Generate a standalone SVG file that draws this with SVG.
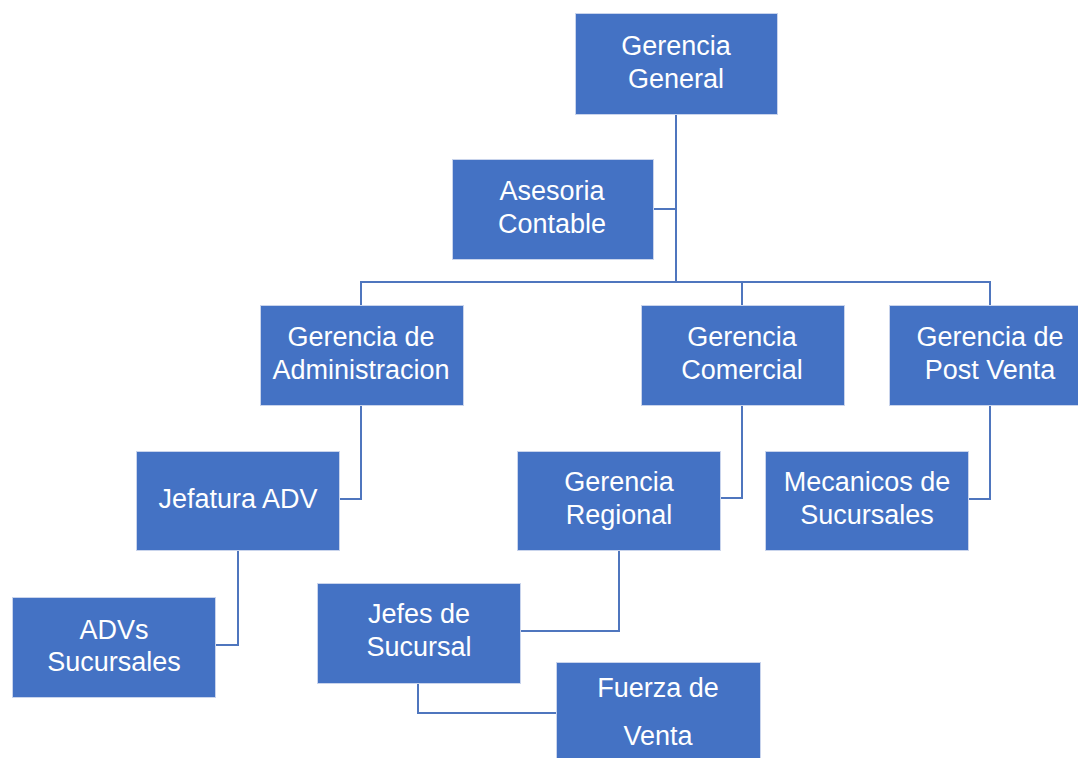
<svg xmlns="http://www.w3.org/2000/svg" width="1078" height="758" viewBox="0 0 1078 758">
  <style>
    .box { fill: #4472C4; stroke: #C9D4EC; stroke-width: 1; }
    .lbl { fill: #FFFFFF; font-family: "Liberation Sans", Arial, sans-serif; font-size: 27px; text-anchor: middle; }
    .link { fill: none; stroke: #4F76BE; stroke-width: 2; }
  </style>
  <rect width="1078" height="758" fill="#FFFFFF"/>

  <!-- connectors -->
  <g id="connectors">
    <path class="link" d="M676 114 V282"/>
    <path class="link" d="M653 209 H676"/>
    <path class="link" d="M361 305 V282 H990 V305"/>
    <path class="link" d="M742 282 V305"/>
    <path class="link" d="M361 405 V499 H339"/>
    <path class="link" d="M238 550 V645 H215"/>
    <path class="link" d="M742 405 V498 H720"/>
    <path class="link" d="M990 405 V499 H969"/>
    <path class="link" d="M619 550 V631 H520"/>
    <path class="link" d="M418 683 V713 H556"/>
  </g>

  <g id="gerencia-general">
    <rect class="box" x="575.5" y="13.5" width="202" height="101"/>
    <text class="lbl" x="676" y="55">Gerencia</text>
    <text class="lbl" x="676" y="88">General</text>
  </g>

  <g id="asesoria-contable">
    <rect class="box" x="452.5" y="159.5" width="201" height="100"/>
    <text class="lbl" x="552" y="200">Asesoria</text>
    <text class="lbl" x="552" y="233">Contable</text>
  </g>

  <g id="gerencia-administracion">
    <rect class="box" x="260.5" y="305.5" width="203" height="100"/>
    <text class="lbl" x="361" y="346">Gerencia de</text>
    <text class="lbl" x="361" y="379">Administracion</text>
  </g>

  <g id="gerencia-comercial">
    <rect class="box" x="641.5" y="305.5" width="203" height="100"/>
    <text class="lbl" x="742" y="346">Gerencia</text>
    <text class="lbl" x="742" y="379">Comercial</text>
  </g>

  <g id="gerencia-post-venta">
    <rect class="box" x="889.5" y="305.5" width="203" height="100"/>
    <text class="lbl" x="990" y="346">Gerencia de</text>
    <text class="lbl" x="990" y="379">Post Venta</text>
  </g>

  <g id="jefatura-adv">
    <rect class="box" x="136.5" y="451.5" width="203" height="99"/>
    <text class="lbl" x="238" y="508">Jefatura ADV</text>
  </g>

  <g id="gerencia-regional">
    <rect class="box" x="517.5" y="451.5" width="203" height="99"/>
    <text class="lbl" x="619" y="491">Gerencia</text>
    <text class="lbl" x="619" y="524">Regional</text>
  </g>

  <g id="mecanicos-sucursales">
    <rect class="box" x="765.5" y="451.5" width="203" height="99"/>
    <text class="lbl" x="867" y="491">Mecanicos de</text>
    <text class="lbl" x="867" y="524">Sucursales</text>
  </g>

  <g id="advs-sucursales">
    <rect class="box" x="12.5" y="597.5" width="203" height="100"/>
    <text class="lbl" x="114" y="639">ADVs</text>
    <text class="lbl" x="114" y="671">Sucursales</text>
  </g>

  <g id="jefes-sucursal">
    <rect class="box" x="317.5" y="583.5" width="203" height="100"/>
    <text class="lbl" x="419" y="623">Jefes de</text>
    <text class="lbl" x="419" y="656">Sucursal</text>
  </g>

  <g id="fuerza-venta">
    <rect class="box" x="556.5" y="662.5" width="204" height="100"/>
    <text class="lbl" x="658" y="697">Fuerza de</text>
    <text class="lbl" x="658" y="745">Venta</text>
  </g>
</svg>
